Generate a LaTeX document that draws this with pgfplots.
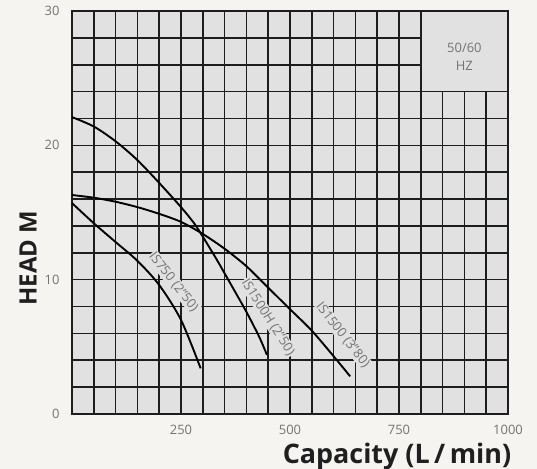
\documentclass[border=0pt]{standalone}
\usepackage{fontspec}
\setmainfont{Open Sans}
\usepackage{pgfplots}
\pgfplotsset{compat=1.18}

\definecolor{paper}{RGB}{246,244,240}
\definecolor{cell}{RGB}{226,225,226}
\definecolor{gridc}{RGB}{30,28,30}
\definecolor{ticktext}{RGB}{115,115,118}

\begin{document}
\begin{tikzpicture}[x=1bp,y=1bp]
\path[use as bounding box, fill=paper] (0,0) rectangle (537,469);
\begin{axis}[
	at={(72bp,55bp)}, anchor=south west,
	scale only axis, width=436bp, height=403bp,
	xmin=0, xmax=1000, ymin=0, ymax=30,
	xtick={250,500,750,1000}, ytick={0,10,20,30},
	minor xtick={0,50,...,1000}, minor ytick={0,2,...,30},
	grid=both,
	major grid style={gridc, line width=1.6bp},
	minor grid style={gridc, line width=1.6bp},
	axis line style={gridc, line width=1.7bp},
	tick style={draw=none},
	axis background/.style={fill=cell},
	ticklabel style={font=\fontsize{13}{13}\selectfont, text=ticktext},
	/pgf/number format/assume math mode=true,
	/pgf/number format/1000 sep={},
	yticklabel style={xshift=-9bp},
	xticklabel style={yshift=-8bp},
	clip=false,
]

% IS750 (2"50)
\addplot[black, line width=1.9bp, smooth] coordinates {
	(0,15.7) (50,14.2) (100,12.8) (150,11.4) (200,9.6) (250,7.0) (295,3.4)
};

% IS1500H (2"50)
\addplot[black, line width=1.9bp, smooth] coordinates {
	(0,22.1) (50,21.4) (100,20.3) (150,18.9) (200,17.2) (250,15.4)
	(280,14.2) (300,13.2) (330,11.6) (360,9.9) (400,7.6) (430,5.7) (447,4.4)
};

% IS1500 (3"80)
\addplot[black, line width=1.9bp, smooth] coordinates {
	(0,16.3) (50,16.1) (100,15.8) (150,15.4) (200,14.9) (250,14.3)
	(300,13.4) (350,12.3) (400,11.0) (450,9.4) (500,7.8) (550,6.2)
	(600,4.3) (638,2.8)
};

% frequency box
\draw[gridc, line width=1.6bp, fill=cell] (axis cs:800,24) rectangle (axis cs:1000,30);
\node[align=center, text=ticktext, font=\fontsize{13}{18}\selectfont]
	at (axis cs:900,26.6) {50/60\\HZ};

% curve labels, set beside their curves
\node[fill=cell, inner sep=1bp, text=ticktext, rotate=-51.7,
	font=\fontsize{13}{13}\selectfont, xshift=2bp, yshift=5bp]
	at (axis cs:221,9.7) {IS750 (2"50)};
\node[fill=cell, inner sep=1bp, text=ticktext, rotate=-57.6,
	font=\fontsize{13}{13}\selectfont, xshift=2bp, yshift=4bp]
	at (axis cs:439,7.15) {IS1500H (2"50)};
\node[fill=cell, inner sep=1bp, text=ticktext, rotate=-51.8,
	font=\fontsize{13}{13}\selectfont, xshift=2bp, yshift=5bp]
	at (axis cs:609,5.75) {IS1500 (3"80)};
\end{axis}

\node[anchor=base, font=\bfseries\fontsize{27}{27}\selectfont, text=black!88]
	at (397,5) {Capacity (L\,/\,min)};
\node[rotate=90, font=\bfseries\fontsize{24}{24}\selectfont, text=black!88]
	at (28,211) {HEAD M};
\end{tikzpicture}
\end{document}
